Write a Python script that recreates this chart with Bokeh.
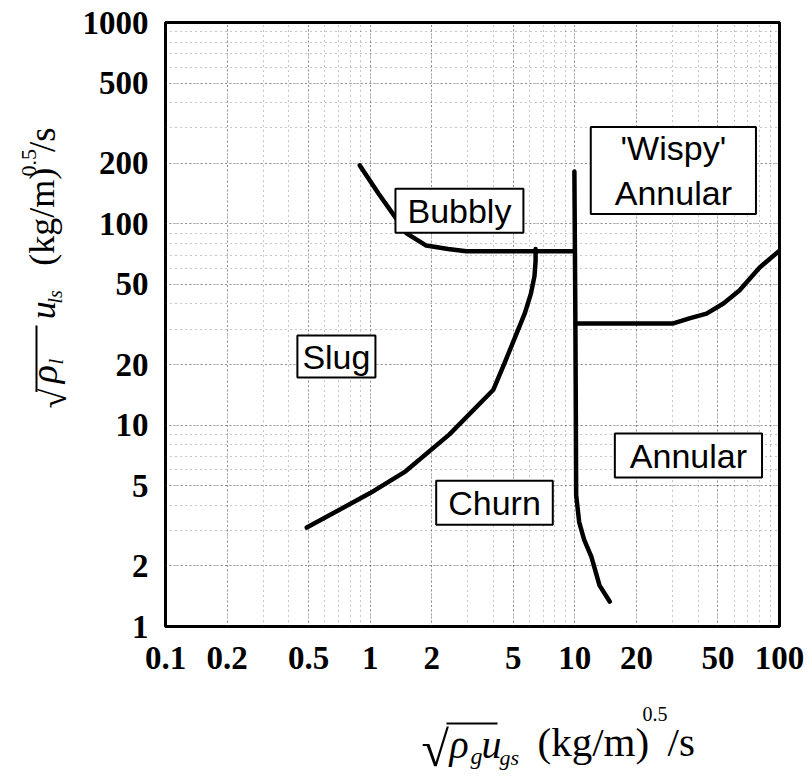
import math
from bokeh.plotting import figure
from bokeh.layouts import column, row
from bokeh.models import FixedTicker, Label
from bokeh.core.properties import value
from bokeh.embed import file_html
from bokeh.resources import INLINE

# ---------------- data ----------------
x_ticks = [0.1, 0.2, 0.5, 1, 2, 5, 10, 20, 50, 100]
x_tick_labels = ["0.1", "0.2", "0.5", "1", "2", "5", "10", "20", "50", "100"]
y_ticks = [1, 2, 5, 10, 20, 50, 100, 200, 500, 1000]
y_tick_labels = ["1", "2", "5", "10", "20", "50", "100", "200", "500", "1000"]

# Bubbly / slug boundary
bubbly_x = [0.89, 1.1, 1.36, 1.5, 1.88, 2.4, 2.95, 10.0]
bubbly_y = [195, 141, 104, 90, 78, 75, 73, 73]

# Slug / churn boundary
slug_x = [0.49, 1.0, 1.49, 2.44, 4.0, 4.55, 5.19, 5.7, 6.1, 6.35, 6.43, 6.43]
slug_y = [3.1, 4.6, 5.9, 9.0, 15.0, 20.5, 28.5, 36, 45, 55, 65, 75]

# Churn / annular boundary
churn_x = [9.95, 10.05, 10.1, 10.15, 10.5, 11.1, 12.05, 13.2, 14.8]
churn_y = [182, 40, 15, 4.5, 3.3, 2.7, 2.22, 1.6, 1.33]

# Wispy annular / annular boundary
wispy_x = [10.1, 20, 30.3, 36.3, 44, 53.2, 63.7, 80, 100]
wispy_y = [32, 32, 32, 33.9, 35.8, 40.2, 46.6, 60.7, 73.6]

# Regime labels
regime_names = ["Bubbly", "'Wispy'\nAnnular", "Slug", "Churn", "Annular"]
regime_x = [2.73, 30.3, 0.684, 4.05, 35.9]
regime_y = [116, 184, 21.9, 4.12, 7.06]

# ---------------- layout geometry (px) ----------------
YW = 75            # width of the y-title strip
PW, PH = 735, 690  # main figure
XH = 86            # height of the x-title strip
FL, FT, FR, FB = 165, 22, 779, 626   # frame edges

p = figure(width=PW, height=PH, x_axis_type="log", y_axis_type="log",
           x_range=(0.1, 100), y_range=(1, 1000), title=None,
           output_backend="svg", toolbar_location=None,
           min_border_left=FL - YW, min_border_right=YW + PW - FR,
           min_border_top=FT, min_border_bottom=PH - FB)
p.background_fill_color = "white"
p.border_fill_color = "white"
p.outline_line_color = "black"
p.outline_line_width = 3

def minor_list(lo_exp, hi_exp):
    out = []
    for e in range(lo_exp, hi_exp):
        for m in range(1, 10):
            out.append(m * 10.0 ** e)
    out.append(10.0 ** hi_exp)
    return out

p.xaxis.ticker = FixedTicker(ticks=x_ticks, minor_ticks=minor_list(-1, 2))
p.yaxis.ticker = FixedTicker(ticks=y_ticks, minor_ticks=minor_list(0, 3))
p.xaxis.major_label_overrides = {t: s for t, s in zip(x_ticks, x_tick_labels)}
p.yaxis.major_label_overrides = {t: s for t, s in zip(y_ticks, y_tick_labels)}

for ax in (p.xaxis[0], p.yaxis[0]):
    ax.axis_line_color = None
    ax.major_tick_line_color = None
    ax.minor_tick_line_color = None
    ax.major_tick_out = 0
    ax.major_tick_in = 0
    ax.minor_tick_out = 0
    ax.minor_tick_in = 0
    ax.major_label_text_font = "Liberation Serif"
    ax.major_label_text_font_style = "bold"
    ax.major_label_text_font_size = "33px"
    ax.major_label_text_color = "black"
p.xaxis.major_label_standoff = 20
p.yaxis.major_label_standoff = 17

for g in (p.xgrid[0], p.ygrid[0]):
    g.grid_line_color = "#333333"
    g.grid_line_dash = "1 3"
    g.grid_line_width = 1
    g.grid_line_alpha = 0.75
    g.minor_grid_line_color = "#444444"
    g.minor_grid_line_dash = "1 4"
    g.minor_grid_line_width = 1
    g.minor_grid_line_alpha = 0.6

for xs, ys in ((bubbly_x, bubbly_y), (slug_x, slug_y), (churn_x, churn_y), (wispy_x, wispy_y)):
    p.line(xs, ys, line_width=4.5, line_color="black", line_cap="round", line_join="round")

pads = {
    "Bubbly": (12, 3),
    "'Wispy'\nAnnular": (24, 2),
    "Slug": (5, 2),
    "Churn": (12, 3),
    "Annular": (15, 3),
}
for name, xv, yv in zip(regime_names, regime_x, regime_y):
    ph, pv = pads[name]
    p.add_layout(Label(x=xv, y=yv, text=name, text_font="Liberation Sans",
                       text_font_size="34px", text_color="black",
                       text_align="center", text_baseline="middle",
                       text_line_height=1.18,
                       border_line_color="black", border_line_width=2,
                       background_fill_color="white",
                       padding=dict(left=ph, right=ph, top=pv, bottom=pv)))

# ---------------- title strips (coordinates = canvas pixels) ----------------
def strip(w, h, x0, y0):
    f = figure(width=w, height=h, x_axis_type=None, y_axis_type=None,
               x_range=(x0, x0 + w), y_range=(y0 + h, y0), title=None,
               output_backend="svg", toolbar_location=None,
               min_border=0, min_border_left=0, min_border_right=0,
               min_border_top=0, min_border_bottom=0)
    f.outline_line_color = None
    f.background_fill_color = "white"
    f.border_fill_color = "white"
    f.grid.visible = False
    return f

yfig = strip(YW, PH, 0, 0)
xfig = strip(YW + PW, XH, 0, PH)

MID = 0.3375  # em-box middle above the alphabetic baseline (Liberation Serif)

def hpiece(text, left, base, size, style="normal"):
    xfig.text(x=[left], y=[base - MID * size], text=[text],
              text_font=value("Liberation Serif"), text_font_size=value(f"{size}px"),
              text_font_style=value(style), text_color="black",
              text_align="left", text_baseline="middle")

def vpiece(text, base, start, size, style="normal"):
    # rotated 90 degrees, reading upward; "base" is the baseline x, "start" the lower end
    yfig.text(x=[base - MID * size], y=[start], text=[text],
              text_font=value("Liberation Serif"), text_font_size=value(f"{size}px"),
              text_font_style=value(style), text_color="black", angle=math.pi / 2,
              text_align="left", text_baseline="middle")

# x-axis title: sqrt(rho_g) u_gs   (kg/m)^0.5/s
hpiece("\u221a", 421, 765, 50)
xfig.segment(x0=[446], y0=[723], x1=[497], y1=[723], line_width=2, line_color="black")
hpiece("\u03c1", 449, 757, 40, "italic")
hpiece("g", 470, 764, 24, "italic")
hpiece("u", 481, 757, 40, "italic")
hpiece("gs", 499, 764, 22, "italic")
hpiece("(kg/m)", 537, 755, 41)
hpiece("0.5", 642, 720, 20)
hpiece("/s", 667, 755, 41)

# y-axis title (rotated, reads upward)
vpiece("\u221a", 66, 441, 36)
yfig.segment(x0=[36], y0=[346], x1=[36], y1=[422], line_width=2, line_color="black")
vpiece("\u03c1", 56, 412, 38, "italic")
vpiece("l", 62, 391, 22, "italic")
vpiece("u", 55, 339, 36, "italic")
vpiece("ls", 61, 321, 20, "italic")
vpiece("(kg/m)", 54, 278, 36)
vpiece("0.5", 36, 176, 22)
vpiece("/s", 54, 148, 37)

layout = column(row(yfig, p, spacing=0), xfig, spacing=0)

open("out.html", "w").write(file_html(layout, INLINE))
